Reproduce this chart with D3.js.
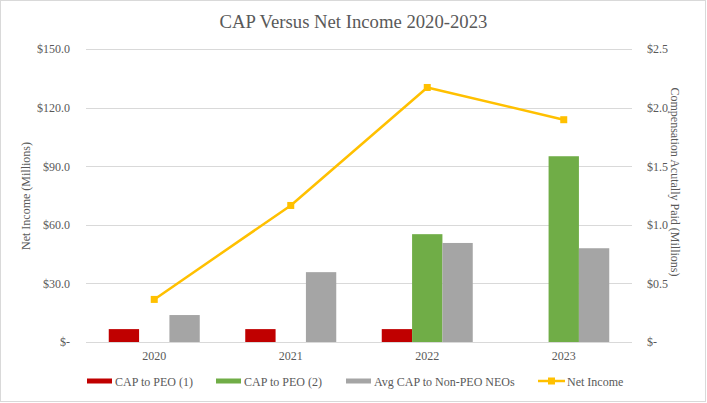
<!DOCTYPE html>
<html>
<head>
<meta charset="utf-8">
<script src="https://cdn.jsdelivr.net/npm/d3@7"></script>
<style>
  body { margin: 0; background: #fff; }
  svg text { font-family: "Liberation Serif", "Times New Roman", serif !important; fill: #595959 !important; }
</style>
</head>
<body>
<div id="chart"></div>
<script>
// data
const years = ['2020', '2021', '2022', '2023'];
const capPeo1 = [0.11, 0.11, 0.11, null];      // $M, right axis
const capPeo2 = [null, null, 0.92, 1.585];
const capNonPeo = [0.23, 0.596, 0.845, 0.80];
const netIncome = [21.8, 69.9, 130.3, 113.8];  // $M, left axis
const leftTicks = [0, 30, 60, 90, 120, 150];
const rightTicks = [0, 0.5, 1.0, 1.5, 2.0, 2.5];

const seriesNames = ['CAP to PEO (1)', 'CAP to PEO (2)', 'Avg CAP to Non-PEO NEOs', 'Net Income'];
const colors = ['#C00000', '#70AD47', '#A5A5A5', '#FFC000'];

const width = 707, height = 403;
const margin = { top: 49, right: 75, bottom: 61, left: 86 };
const w = width - margin.left - margin.right;
const h = height - margin.top - margin.bottom;

const svg = d3.select('#chart').append('svg')
    .attr('width', width)
    .attr('height', height)
    .attr('font-family', '"Liberation Serif", serif');

// outer border
svg.append('rect')
    .attr('x', 0.5).attr('y', 0.5)
    .attr('width', width - 2).attr('height', height - 2)
    .attr('fill', '#fff')
    .attr('stroke', '#D9D9D9');

svg.append('text')
    .attr('x', width / 2)
    .attr('y', 28)
    .attr('text-anchor', 'middle')
    .style('font-size', '18.7px')
    .text('CAP Versus Net Income 2020-2023');

const g = svg.append('g')
    .attr('transform', 'translate(' + margin.left + ',' + margin.top + ')');

const x = d3.scaleBand()
    .domain(years)
    .range([0, w])
    .paddingInner(1 / 3)
    .paddingOuter(1 / 6);

const xSub = d3.scaleBand()
    .domain([0, 1, 2])
    .range([0, x.bandwidth()]);

const yLeft = d3.scaleLinear().domain([0, 150]).range([h, 0]);
const yRight = d3.scaleLinear().domain([0, 2.5]).range([h, 0]);

// gridlines
g.append('g')
    .selectAll('line')
    .data(leftTicks)
    .enter()
    .append('line')
    .attr('x1', 0).attr('x2', w)
    .attr('y1', d => Math.round(yLeft(d)) + 0.5)
    .attr('y2', d => Math.round(yLeft(d)) + 0.5)
    .attr('stroke', '#D9D9D9')
    .attr('stroke-width', 1);

const fmt = d => d === 0 ? '$-' : '$' + d.toFixed(1);

// left axis
const axL = g.append('g')
    .attr('transform', 'translate(-13,0)')
    .call(d3.axisLeft(yLeft).tickValues(leftTicks).tickFormat(fmt).tickSize(0));
axL.attr('font-family', null);
axL.select('.domain').remove();
axL.selectAll('text').style('font-size', '12px');

// right axis
const axR = g.append('g')
    .attr('transform', 'translate(' + (w + 12) + ',0)')
    .call(d3.axisRight(yRight).tickValues(rightTicks).tickFormat(fmt).tickSize(0));
axR.attr('font-family', null);
axR.select('.domain').remove();
axR.selectAll('text').style('font-size', '12px');

// x axis
const axX = g.append('g')
    .attr('transform', 'translate(0,' + h + ')')
    .call(d3.axisBottom(x).tickSize(0).tickPadding(9));
axX.attr('font-family', null);
axX.select('.domain').remove();
axX.selectAll('text').style('font-size', '12px');

// axis titles
svg.append('text')
    .attr('transform', 'translate(30,196) rotate(-90)')
    .attr('text-anchor', 'middle')
    .style('font-size', '12px')
    .text('Net Income (Millions)');

svg.append('text')
    .attr('transform', 'translate(671,182) rotate(90)')
    .attr('text-anchor', 'middle')
    .style('font-size', '12px')
    .text('Compensation Acutally Paid (Millions)');

// bars
const barSeries = [capPeo1, capPeo2, capNonPeo];
barSeries.forEach((vals, si) => {
    g.append('g')
        .selectAll('rect')
        .data(vals.map((v, i) => ({ year: years[i], v: v })).filter(d => d.v != null))
        .enter()
        .append('rect')
        .attr('x', d => x(d.year) + xSub(si))
        .attr('width', xSub.bandwidth())
        .attr('y', d => yRight(d.v))
        .attr('height', d => h - yRight(d.v))
        .attr('fill', colors[si]);
});

// net income line
const cx = d => x(d.year) + x.bandwidth() / 2;
const lineData = netIncome.map((v, i) => ({ year: years[i], v: v }));
g.append('path')
    .datum(lineData)
    .attr('fill', 'none')
    .attr('stroke', colors[3])
    .attr('stroke-width', 2.5)
    .attr('stroke-linejoin', 'round')
    .attr('d', d3.line().x(cx).y(d => yLeft(d.v)));

g.append('g')
    .selectAll('rect')
    .data(lineData)
    .enter()
    .append('rect')
    .attr('x', d => cx(d) - 3.5)
    .attr('y', d => yLeft(d.v) - 3.5)
    .attr('width', 7)
    .attr('height', 7)
    .attr('fill', colors[3]);

// legend
const legendX = [87, 216, 346, 538];
const legendY = 381;
const leg = svg.append('g');
seriesNames.forEach((name, i) => {
    const item = leg.append('g').attr('transform', 'translate(' + legendX[i] + ',' + legendY + ')');
    if (i < 3) {
        item.append('rect')
            .attr('x', 0).attr('y', -2.5)
            .attr('width', 25).attr('height', 5)
            .attr('fill', colors[i]);
        item.append('text')
            .attr('x', 28).attr('y', 4.5)
            .style('font-size', '12px')
            .text(name);
    } else {
        item.append('line')
            .attr('x1', 0).attr('x2', 27)
            .attr('y1', 0).attr('y2', 0)
            .attr('stroke', colors[3])
            .attr('stroke-width', 2.5);
        item.append('rect')
            .attr('x', 10).attr('y', -3.5)
            .attr('width', 7).attr('height', 7)
            .attr('fill', colors[3]);
        item.append('text')
            .attr('x', 29).attr('y', 4.5)
            .style('font-size', '12px')
            .text(name);
    }
});
</script>
</body>
</html>
